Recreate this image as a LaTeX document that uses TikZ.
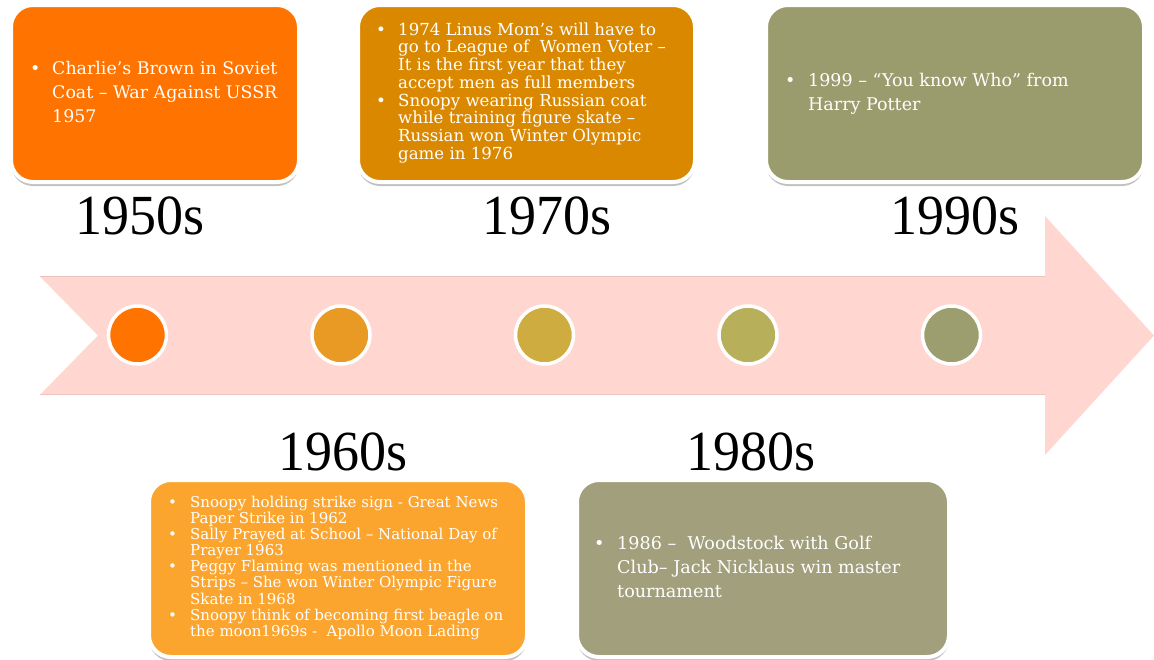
\documentclass[tikz,border=0pt]{standalone}
\usepackage{fontspec}
\setmainfont{DejaVu Serif}
\newfontfamily\yearfont{Liberation Serif}
\usetikzlibrary{shadows}
\definecolor{arrowpink}{HTML}{FFD6D0}
\definecolor{arrowedge}{HTML}{EBC4BE}
\definecolor{boxA}{HTML}{FF7300}
\definecolor{boxB}{HTML}{FBA52F}
\definecolor{boxC}{HTML}{DA8800}
\definecolor{boxD}{HTML}{A29F7C}
\definecolor{boxE}{HTML}{9B9C6E}
\definecolor{dotA}{HTML}{FF7300}
\definecolor{dotB}{HTML}{E89A25}
\definecolor{dotC}{HTML}{CFAC40}
\definecolor{dotD}{HTML}{B8AF5A}
\definecolor{dotE}{HTML}{9C9E70}
\tikzset{
  eventbox/.style={draw=white, line width=4pt, rounded corners=22pt, inner sep=0pt,
    minimum height=177pt,
    drop shadow={shadow xshift=0pt, shadow yshift=-4pt, opacity=.35, fill=black!70}},
  yeardot/.style={circle, draw=white, line width=3.5pt, minimum size=58pt, inner sep=0pt},
  decade/.style={font=\yearfont\fontsize{54}{54}\selectfont, inner sep=0pt, yscale=1.05},
  eventtext/.style={anchor=west, text=white, inner sep=0pt, align=left},
}
\begin{document}
\begin{tikzpicture}[x=1pt, y=-1pt]
    \useasboundingbox (0,0) rectangle (1154,659);
    % timeline arrow
    \fill[arrowpink] (40,276.5) -- (1045,276.5) -- (1045,216) -- (1154,335.5)
        -- (1045,455) -- (1045,394.8) -- (40,394.8) -- (98,335.5) -- cycle;
    \draw[arrowedge, line width=0.8pt] (40,276.5) -- (1045,276.5);
    \draw[arrowedge, line width=0.8pt] (40,394.8) -- (1045,394.8);

    \node[yeardot, fill=dotA] (d50) at (137.5,335) {};
    \node[yeardot, fill=dotB] (d60) at (341,335) {};
    \node[yeardot, fill=dotC] (d70) at (544.5,335) {};
    \node[yeardot, fill=dotD] (d80) at (748,335) {};
    \node[yeardot, fill=dotE] (d90) at (951.5,335) {};

    \node[decade] (y50) at (140,216) {1950s};
    \node[decade] (y70) at (547,216) {1970s};
    \node[decade] (y90) at (955,216) {1990s};
    \node[decade] (y60) at (343,452) {1960s};
    \node[decade] (y80) at (751,452) {1980s};

    % event boxes
    \node[eventbox, fill=boxA, minimum width=288pt] (b50) at (155,93.5) {};
    \node[eventbox, fill=boxC, minimum width=337pt] (b70) at (526.5,93.5) {};
    \node[eventbox, fill=boxE, minimum width=378pt] (b90) at (955,93.5) {};
    \node[eventbox, fill=boxB, minimum width=378pt] (b60) at (338,568.5) {};
    \node[eventbox, fill=boxD, minimum width=372pt] (b80) at (763,568.5) {};

    \node[eventtext, font=\fontsize{17.4}{24}\selectfont] (t50) at ([xshift=21pt]b50.west)
        {\begin{tabular}{@{}p{22pt}@{}l@{}}
          • & Charlie’s Brown in Soviet\\
            & Coat – War Against USSR\\
            & 1957
         \end{tabular}};
    \node[eventtext, font=\fontsize{16.6}{17.4}\selectfont] (t70) at ([xshift=20pt]b70.west)
        {\begin{tabular}{@{}p{22pt}@{}l@{}}
          • & 1974 Linus Mom’s will have to\\
            & go to League of\ \ Women Voter –\\
            & It is the first year that they\\
            & accept men as full members\\
          • & Snoopy wearing Russian coat\\
            & while training figure skate –\\
            & Russian won Winter Olympic\\
            & game in 1976
         \end{tabular}};
    \node[eventtext, font=\fontsize{17.5}{24}\selectfont] (t90) at ([xshift=21pt]b90.west)
        {\begin{tabular}{@{}p{23pt}@{}l@{}}
          • & 1999 – “You know Who” from\\
            & Harry Potter
         \end{tabular}};
    \node[eventtext, font=\fontsize{15}{15.9}\selectfont] (t60) at ([xshift=21pt]b60.west)
        {\begin{tabular}{@{}p{22pt}@{}l@{}}
          • & Snoopy holding strike sign - Great News\\
            & Paper Strike in 1962\\
          • & Sally Prayed at School – National Day of\\
            & Prayer 1963\\
          • & Peggy Flaming was mentioned in the\\
            & Strips – She won Winter Olympic Figure\\
            & Skate in 1968\\
          • & Snoopy think of becoming first beagle on\\
            & the moon1969s -\ \ Apollo Moon Lading
         \end{tabular}};
    \node[eventtext, font=\fontsize{17.6}{24}\selectfont] (t80) at ([xshift=19pt]b80.west)
        {\begin{tabular}{@{}p{23pt}@{}l@{}}
          • & 1986 –\ \ Woodstock with Golf\\
            & Club– Jack Nicklaus win master\\
            & tournament
         \end{tabular}};
\end{tikzpicture}
\end{document}
